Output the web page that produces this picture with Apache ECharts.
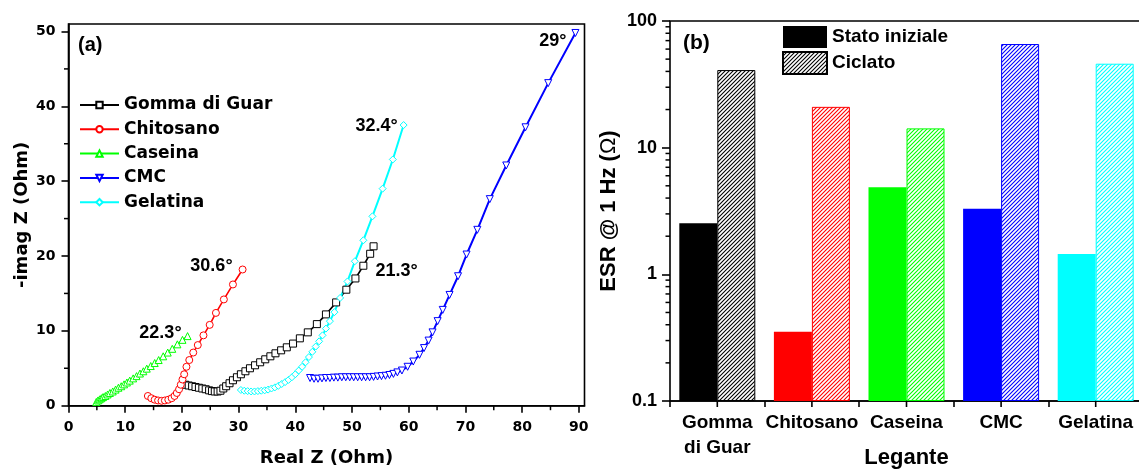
<!DOCTYPE html>
<html>
<head>
<meta charset="utf-8">
<script src="https://cdn.jsdelivr.net/npm/echarts@6/dist/echarts.min.js"></script>
<style>
  html, body { margin: 0; padding: 0; background: #fff; }
  #chart { width: 1139px; height: 469px; }
</style>
</head>
<body>
<div id="chart"></div>
<script>
// ---- (a) Nyquist plot: [Real Z, -imag Z] in Ohm ----
const gommaDiGuar = [
  [20.6, 2.8], [21.2, 2.7], [21.8, 2.6], [22.4, 2.5], [23.0, 2.4], [23.6, 2.3], [24.2, 2.2],
  [24.8, 2.05], [25.3, 1.95], [25.8, 1.9], [26.3, 1.9], [26.8, 2.0], [27.3, 2.3], [27.8, 2.6],
  [28.4, 3.0], [29.0, 3.4], [29.7, 3.8], [30.4, 4.2], [31.2, 4.6], [32.0, 5.0], [32.9, 5.4],
  [33.8, 5.8], [34.7, 6.2], [35.6, 6.6], [36.5, 7.0], [37.5, 7.4], [38.5, 7.8], [39.6, 8.3],
  [40.8, 9.0], [42.2, 9.8], [43.8, 10.9], [45.4, 12.2], [47.2, 13.8], [49.0, 15.5], [50.6, 17.0],
  [52.0, 18.7], [53.2, 20.3], [53.8, 21.3]
];
const chitosano = [
  [14.0, 1.3], [14.6, 1.0], [15.2, 0.8], [15.8, 0.7], [16.4, 0.65], [17.0, 0.7], [17.6, 0.8],
  [18.2, 1.0], [18.7, 1.3], [19.1, 1.7], [19.5, 2.2], [19.8, 2.8], [20.1, 3.5], [20.4, 4.2],
  [20.8, 5.2], [21.3, 6.1], [22.0, 7.1], [22.8, 8.1], [23.8, 9.4], [24.9, 10.8], [26.0, 12.4],
  [27.4, 14.2], [29.0, 16.2], [30.7, 18.2]
];
const caseina = [
  [4.9, 0.5], [5.2, 0.7], [5.5, 0.85], [5.8, 1.0], [6.1, 1.15], [6.5, 1.3], [6.9, 1.5],
  [7.3, 1.7], [7.8, 1.9], [8.3, 2.15], [8.8, 2.4], [9.3, 2.6], [9.8, 2.85], [10.3, 3.1],
  [10.8, 3.35], [11.4, 3.65], [12.0, 3.95], [12.6, 4.3], [13.2, 4.6], [13.8, 4.95], [14.5, 5.3],
  [15.2, 5.7], [15.9, 6.1], [16.7, 6.6], [17.5, 7.1], [18.3, 7.6], [19.2, 8.2], [20.1, 8.8],
  [21.0, 9.3]
];
const cmc = [
  [42.6, 3.7], [43.3, 3.6], [44.0, 3.6], [44.7, 3.65], [45.4, 3.7], [46.1, 3.7], [46.8, 3.75],
  [47.5, 3.75], [48.2, 3.8], [48.9, 3.8], [49.6, 3.8], [50.3, 3.8], [51.0, 3.8], [51.7, 3.8],
  [52.4, 3.8], [53.1, 3.8], [53.8, 3.85], [54.5, 3.9], [55.2, 3.95], [55.9, 4.0], [56.6, 4.1],
  [57.3, 4.25], [58.0, 4.45], [58.8, 4.7], [59.8, 5.2], [60.8, 5.9], [61.9, 6.8], [62.7, 7.7],
  [63.5, 8.7], [64.2, 9.8], [65.1, 11.3], [66.0, 12.8], [67.2, 14.8], [68.7, 17.3], [70.2, 20.2],
  [72.1, 23.5], [74.3, 27.6], [77.2, 32.1], [80.6, 37.2], [84.6, 43.1], [89.4, 49.8]
];
const gelatina = [
  [30.4, 2.1], [31.0, 2.0], [31.6, 1.95], [32.2, 1.9], [32.8, 1.9], [33.4, 1.95], [34.0, 2.0],
  [34.6, 2.05], [35.2, 2.15], [35.8, 2.3], [36.4, 2.45], [37.0, 2.65], [37.6, 2.9], [38.2, 3.15],
  [38.8, 3.45], [39.4, 3.8], [40.0, 4.2], [40.6, 4.7], [41.2, 5.2], [41.8, 5.8], [42.4, 6.5],
  [43.0, 7.2], [43.6, 7.9], [44.2, 8.6], [44.8, 9.4], [45.4, 10.3], [46.1, 11.3], [46.9, 12.5],
  [47.9, 14.4], [49.2, 16.6], [50.5, 19.3], [52.0, 22.1], [53.6, 25.3], [55.4, 29.0], [57.2, 32.9],
  [59.1, 37.5]
];
// phase angle of the low-frequency tail, written next to each curve's end
const angoloGomma = '21.3°';
const angoloChitosano = '30.6°';
const angoloCaseina = '22.3°';
const angoloCmc = '29°';
const angoloGelatina = '32.4°';

const realZTicks = [0, 10, 20, 30, 40, 50, 60, 70, 80, 90];
const realZMinor = [5, 15, 25, 35, 45, 55, 65, 75, 85];
const imagZTicks = [0, 10, 20, 30, 40, 50];
const imagZMinor = [5, 15, 25, 35, 45];

// ---- (b) ESR at 1 Hz, in Ohm ----
const leganti = ['Gomma\ndi Guar', 'Chitosano', 'Caseina', 'CMC', 'Gelatina'];
const esrStatoIniziale = [2.53, 0.352, 4.86, 3.30, 1.45];
const esrCiclato = [41.0, 21.0, 14.2, 65.8, 46.0];
const esrMinor = [0.2, 0.3, 0.4, 0.5, 0.6, 0.7, 0.8, 0.9, 2, 3, 4, 5, 6, 7, 8, 9,
                  20, 30, 40, 50, 60, 70, 80, 90];

const legantiColori = ['#000000', '#ff0000', '#00ff00', '#0000ff', '#00ffff'];

const FONT = '"Liberation Sans", Arial, sans-serif';
const FONT_WIDE = '"DejaVu Sans", Verdana, sans-serif';
const MINOR_LEN = 4.5;

// diagonal hatch fill used for the cycled samples
function hatch(color) {
  const s = 4;
  const c = document.createElement('canvas');
  c.width = s; c.height = s;
  const g = c.getContext('2d');
  g.fillStyle = '#ffffff';
  g.fillRect(0, 0, s, s);
  g.strokeStyle = color;
  g.lineWidth = 1.1;
  g.beginPath();
  g.moveTo(0, s); g.lineTo(s, 0);
  g.moveTo(-1, 1); g.lineTo(1, -1);
  g.moveTo(s - 1, s + 1); g.lineTo(s + 1, s - 1);
  g.stroke();
  return { image: c, repeat: 'repeat' };
}

function withEndLabel(points, text, label) {
  return points.map((p, i) => i === points.length - 1
    ? { value: p, label: Object.assign({
        show: true, formatter: text, color: '#000',
        fontFamily: FONT, fontWeight: 'bold', fontSize: 18
      }, label) }
    : p);
}

function nyquist(name, data, color, symbol, extra) {
  return Object.assign({
    name: name, type: 'line', xAxisIndex: 0, yAxisIndex: 0,
    data: data, symbol: symbol, symbolSize: 7, showAllSymbol: true,
    lineStyle: { color: color, width: 1.6 },
    itemStyle: { color: '#ffffff', borderColor: color, borderWidth: 1 },
    emphasis: { disabled: true }, animation: false
  }, extra || {});
}

// short tick marks drawn through the axes' own scales
function minorTicks(xIdx, yIdx, values, dim, len) {
  return {
    type: 'custom', xAxisIndex: xIdx, yAxisIndex: yIdx, silent: true, clip: false, z: 5,
    data: values.map(v => dim === 'x' ? [v, 0] : [0, v]),
    renderItem: function (params, api) {
      const cs = params.coordSys;
      if (dim === 'x') {
        const x = api.coord([api.value(0), 0])[0];
        const y = cs.y + cs.height;
        return { type: 'line', shape: { x1: x, y1: y, x2: x, y2: y + len },
                 style: { stroke: '#000', lineWidth: 1.5 } };
      }
      const y = api.coord([api.value(0), api.value(1)])[1];
      const x = cs.x;
      return { type: 'line', shape: { x1: x - len, y1: y, x2: x, y2: y },
               style: { stroke: '#000', lineWidth: 1.5 } };
    }
  };
}

const axisLineStyle = { lineStyle: { color: '#000', width: 1.6 } };
const tickLabelA = { color: '#000', fontFamily: FONT_WIDE, fontWeight: 'bold', fontSize: 14 };
const titleStyleA = { color: '#000', fontFamily: FONT_WIDE, fontWeight: 'bold', fontSize: 18 };
const tickLabelB = { color: '#000', fontFamily: FONT, fontWeight: 'bold', fontSize: 18 };
const titleStyleB = { color: '#000', fontFamily: FONT, fontWeight: 'bold', fontSize: 22 };

const chart = echarts.init(document.getElementById('chart'), null, { renderer: 'canvas' });

chart.setOption({
  animation: false,
  backgroundColor: '#ffffff',
  textStyle: { fontFamily: FONT },
  grid: [
    { left: 68.5, top: 24, width: 516, height: 381.7, show: true, outerBoundsMode: 'none',
      containLabel: false, borderColor: '#000', borderWidth: 1.6, backgroundColor: 'transparent' },
    { left: 670, top: 21, width: 473, height: 380, show: true, outerBoundsMode: 'none',
      containLabel: false, borderColor: '#000', borderWidth: 1.6, backgroundColor: 'transparent' }
  ],
  xAxis: [
    { gridIndex: 0, type: 'value', min: 0, max: 91, position: 'bottom',
      axisLine: axisLineStyle,
      axisTick: { show: true, inside: false, length: 7, customValues: realZTicks,
                  lineStyle: { color: '#000', width: 1.6 } },
      axisLabel: Object.assign({ customValues: realZTicks, margin: 15 }, tickLabelA),
      splitLine: { show: false },
      name: 'Real Z (Ohm)', nameLocation: 'middle', nameGap: 44, nameMoveOverlap: false,
      nameTextStyle: titleStyleA },
    { gridIndex: 1, type: 'category', data: leganti, position: 'bottom',
      axisLine: axisLineStyle,
      axisTick: { show: true, inside: false, length: 6, alignWithLabel: false, interval: 0,
                  lineStyle: { color: '#000', width: 1.6 } },
      axisLabel: Object.assign({}, tickLabelB, { fontSize: 19, lineHeight: 25, margin: 9, interval: 0 }),
      name: 'Legante', nameLocation: 'middle', nameGap: 45.5, nameMoveOverlap: false,
      nameTextStyle: titleStyleB }
  ],
  yAxis: [
    { gridIndex: 0, type: 'value', min: 0, max: 51, position: 'left',
      axisLine: axisLineStyle,
      axisTick: { show: true, inside: false, length: 7, customValues: imagZTicks,
                  lineStyle: { color: '#000', width: 1.6 } },
      axisLabel: Object.assign({ customValues: imagZTicks, margin: 13 }, tickLabelA),
      splitLine: { show: false },
      name: '-imag Z (Ohm)', nameLocation: 'middle', nameGap: 37.5, nameMoveOverlap: false,
      nameTextStyle: titleStyleA },
    { gridIndex: 1, type: 'log', logBase: 10, min: 0.1, max: 100, startValue: 0.1, position: 'left',
      axisLine: axisLineStyle,
      axisTick: { show: true, inside: false, length: 8, lineStyle: { color: '#000', width: 1.6 } },
      axisLabel: Object.assign({}, tickLabelB, { margin: 13,
        formatter: v => String(Number(v.toPrecision(3))) }),
      splitLine: { show: false },
      name: 'ESR @ 1 Hz ({o|Ω})', nameLocation: 'middle', nameGap: 50, nameMoveOverlap: false,
      nameTextStyle: Object.assign({}, titleStyleB, {
        rich: { o: { fontFamily: FONT, fontWeight: 'normal', fontSize: 22, color: '#000' } } }) }
  ],
  legend: [
    { data: ['Gomma di Guar', 'Chitosano', 'Caseina', 'CMC', 'Gelatina'],
      orient: 'vertical', left: 79, top: 96, padding: 0, itemWidth: 39, itemHeight: 8, itemGap: 6.3,
      selectedMode: false,
      textStyle: { color: '#000', fontFamily: FONT_WIDE, fontWeight: 'bold', fontSize: 17, lineHeight: 18 } },
    { data: ['Stato iniziale', 'Ciclato'], icon: 'rect',
      orient: 'vertical', left: 782, top: 26, padding: 0, itemWidth: 44, itemHeight: 22, itemGap: 3,
      selectedMode: false,
      textStyle: { color: '#000', fontFamily: FONT, fontWeight: 'bold', fontSize: 19 } }
  ],
  graphic: [
    { type: 'text', left: 78, top: 35,
      style: { text: '(a)', fill: '#000', font: 'bold 20px ' + FONT } },
    { type: 'text', left: 683, top: 33,
      style: { text: '(b)', fill: '#000', font: 'bold 21px ' + FONT } }
  ],
  series: [
    nyquist('Gomma di Guar', withEndLabel(gommaDiGuar, angoloGomma,
      { position: 'right', distance: 0, offset: [-2, 25] }), '#000000', 'rect'),
    nyquist('Chitosano', withEndLabel(chitosano, angoloChitosano,
      { position: 'left', distance: 6, offset: [0, -3] }), '#ff0000', 'circle'),
    nyquist('Caseina', withEndLabel(caseina, angoloCaseina,
      { position: 'left', distance: 2, offset: [0, -3] }), '#00ff00', 'triangle'),
    nyquist('CMC', withEndLabel(cmc, angoloCmc,
      { position: 'left', distance: 5, offset: [0, 8] }), '#0000ff', 'triangle',
      { symbolRotate: 180, lineStyle: { color: '#0000ff', width: 2 } }),
    nyquist('Gelatina', withEndLabel(gelatina, angoloGelatina,
      { position: 'left', distance: 2, offset: [0, 1] }), '#00ffff', 'diamond',
      { lineStyle: { color: '#00ffff', width: 2 } }),
    {
      name: 'Stato iniziale', type: 'bar', xAxisIndex: 1, yAxisIndex: 1,
      barWidth: 38, barGap: '0%',
      itemStyle: { color: '#000000' },
      data: esrStatoIniziale.map((v, i) => ({ value: v, itemStyle: { color: legantiColori[i] } })),
      emphasis: { disabled: true }
    },
    {
      name: 'Ciclato', type: 'bar', xAxisIndex: 1, yAxisIndex: 1,
      barWidth: 38, barGap: '0%',
      itemStyle: { color: hatch('#000000'), borderColor: '#000000', borderWidth: 1 },
      data: esrCiclato.map((v, i) => ({ value: v,
        itemStyle: { color: hatch(legantiColori[i]), borderColor: legantiColori[i], borderWidth: 1 } })),
      emphasis: { disabled: true }
    },
    minorTicks(0, 0, realZMinor, 'x', MINOR_LEN),
    minorTicks(0, 0, imagZMinor, 'y', MINOR_LEN),
    minorTicks(1, 1, esrMinor, 'y', MINOR_LEN),
    {
      // tick marks at the centre of each binder group
      type: 'custom', xAxisIndex: 1, yAxisIndex: 1, silent: true, clip: false, z: 5,
      data: leganti.map((c, i) => [i, 1]),
      renderItem: function (params, api) {
        const cs = params.coordSys;
        const x = api.coord([api.value(0), 1])[0];
        const y = cs.y + cs.height;
        return { type: 'line', shape: { x1: x, y1: y, x2: x, y2: y + 6 },
                 style: { stroke: '#000', lineWidth: 1.6 } };
      }
    }
  ]
});
</script>
</body>
</html>
